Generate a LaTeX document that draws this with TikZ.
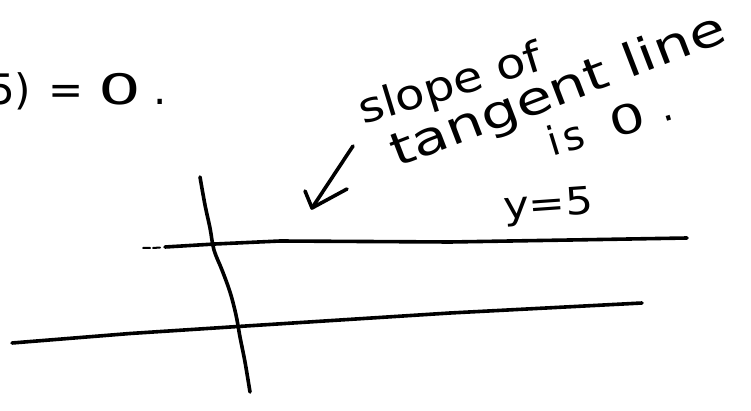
\documentclass[tikz,border=0pt]{standalone}
\usepackage{fontspec}
\setmainfont{DejaVu Sans}
\begin{document}
\begin{tikzpicture}[x=1pt,y=-1pt,line cap=round,line join=round]
\tikzset{
  pen/.style={line width=3.6pt,black},
  faint/.style={line width=2pt,black},
  hand/.style={inner sep=0pt,outer sep=0pt,text=black,anchor=base west},
}
\useasboundingbox (0,0) rectangle (751,411);
\clip (0,0) rectangle (751,411);
% texts
\node[hand,font=\fontsize{42}{42}\selectfont] (eq) at (-12,105)
  {5)\hspace{17pt}=\hspace{15pt}\scalebox{1.6}[1]{0}\hspace{12pt}.};
\node[hand,font=\fontsize{42}{42}\selectfont,rotate=17,xscale=1.15] (t1) at (363,125) {slope of};
\node[hand,font=\fontsize{46}{46}\selectfont,rotate=21,xscale=1.28] (t2) at (397,168) {tangent line};
\node[hand,font=\fontsize{40}{40}\selectfont,rotate=17] (t3) at (552,157)
  {i\hspace{5pt}s\hspace{28pt}\scalebox{1.4}[1]{0}\hspace{16pt}.};
\node[hand,font=\fontsize{38}{38}\selectfont,rotate=4,xscale=1.15] (t4) at (504,220) {y=5};
% arrow
\coordinate (a0) at (353,146);
\coordinate (a1) at (312,208);
\coordinate (a2) at (305,191);
\coordinate (a3) at (347,189);
\draw[pen] (a0) -- (a1);
\draw[pen] (a2) -- (a1) -- (a3);
% axis
\draw[pen] plot[smooth,tension=0.6] coordinates
  {(200,177) (205,205) (210,228) (214,250) (222,270) (230,292) (236,315) (240,337) (245,362) (250,392)};
% upper line y=5
\draw[faint] (143,248) -- (150,248) (153,248) -- (160,247.5);
\draw[pen] (165,247) -- (215,244) -- (280,241) -- (450,242) -- (600,239.5) -- (687,238);
% lower line
\draw[pen] (12,343) -- (130,333.5) -- (238,326.5) -- (450,313) -- (642,303);
\end{tikzpicture}
\end{document}
